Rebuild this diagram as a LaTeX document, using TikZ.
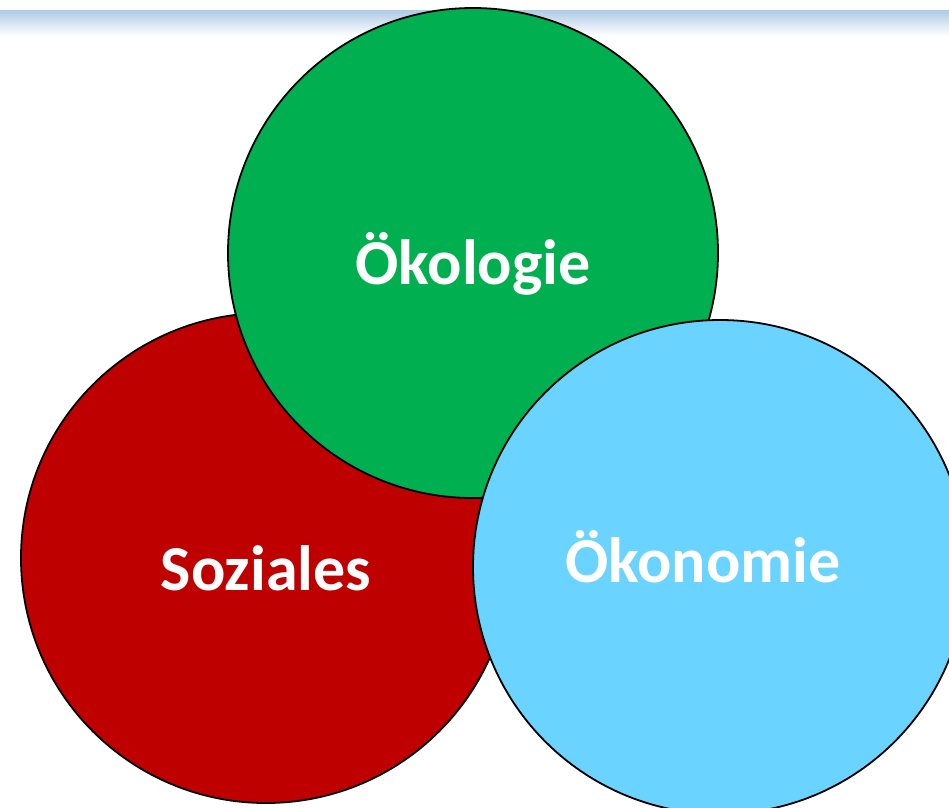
\documentclass[tikz,border=0pt]{standalone}
\usepackage{fontspec}
\setmainfont{Carlito}
\definecolor{soz}{HTML}{BE0000}
\definecolor{oko}{HTML}{00B050}
\definecolor{oek}{HTML}{6AD3FF}
\definecolor{barblue}{HTML}{B0CAE6}
\begin{document}
\begin{tikzpicture}[x=1pt,y=-1pt,
  ring/.style={circle, draw=black, line width=1.8pt, inner sep=0pt},
  lbl/.style={text=white, font=\bfseries\fontsize{64}{70}\selectfont, inner sep=0pt}]
\useasboundingbox (0,0) rectangle (949,807);
\fill[white] (0,0) rectangle (949,807);
\shade[top color=barblue, bottom color=white] (0,10) rectangle (949,36);
\node[ring, fill=soz, minimum size=490pt] (soz) at (266,558) {};
\node[ring, fill=oko, minimum size=490pt] (oko) at (473,253) {};
\node[ring, fill=oek, minimum size=494pt] (oek) at (720,567) {};
\node[lbl] (tsoz) at (266,568) {Soziales};
\node[lbl] (toko) at (473,264) {Ökologie};
\node[lbl] (toek) at (703,557) {Ökonomie};
\end{tikzpicture}
\end{document}
